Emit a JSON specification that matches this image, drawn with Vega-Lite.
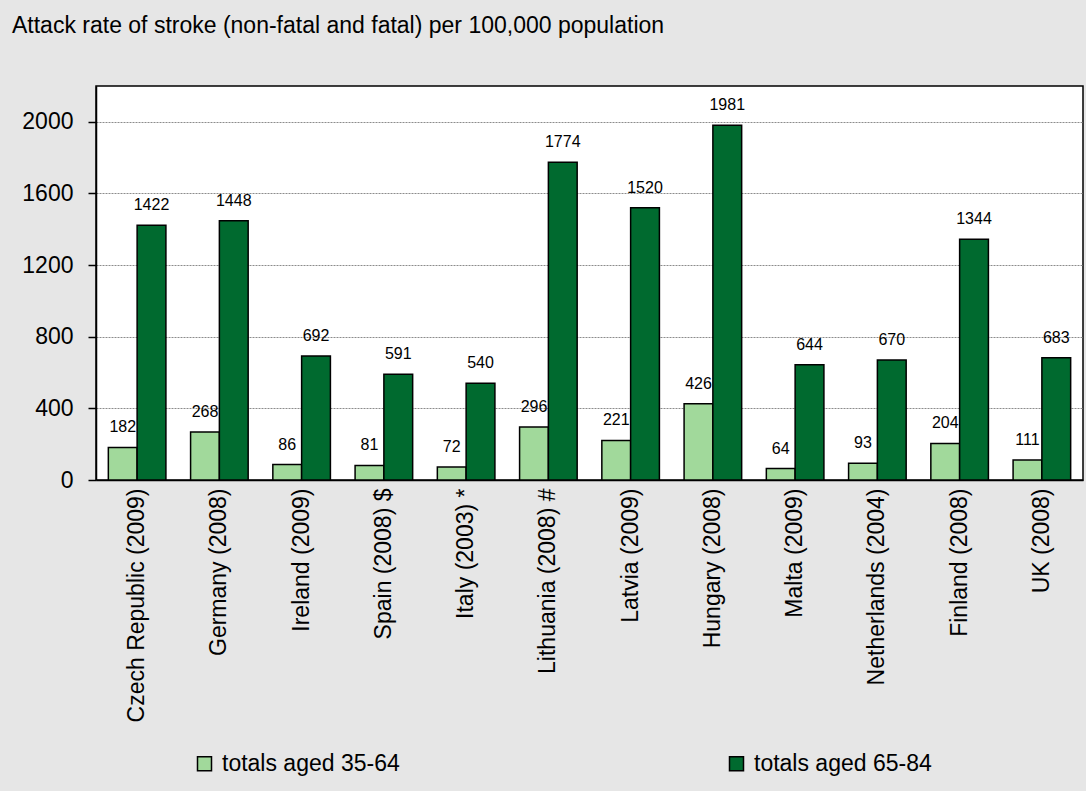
{
  "$schema": "https://vega.github.io/schema/vega-lite/v6.json",
  "width": 987,
  "height": 394,
  "autosize": "none",
  "padding": {"left": 96, "top": 86, "right": 3, "bottom": 311},
  "background": "#e6e6e6",
  "title": {
    "text": "Attack rate of stroke (non-fatal and fatal) per 100,000 population",
    "anchor": "start",
    "frame": "group",
    "dx": -84,
    "offset": 48,
    "font": "Liberation Sans",
    "fontSize": 23,
    "fontWeight": "normal",
    "color": "#000000"
  },
  "config": {
    "font": "Liberation Sans",
    "view": {"fill": "#ffffff", "stroke": "#000000", "strokeWidth": 1.5}
  },
  "data": {
    "values": [
      {"country": "Czech Republic (2009)", "group": "totals aged 35-64", "value": 182},
      {"country": "Czech Republic (2009)", "group": "totals aged 65-84", "value": 1422},
      {"country": "Germany (2008)", "group": "totals aged 35-64", "value": 268},
      {"country": "Germany (2008)", "group": "totals aged 65-84", "value": 1448},
      {"country": "Ireland (2009)", "group": "totals aged 35-64", "value": 86},
      {"country": "Ireland (2009)", "group": "totals aged 65-84", "value": 692},
      {"country": "Spain (2008) $", "group": "totals aged 35-64", "value": 81},
      {"country": "Spain (2008) $", "group": "totals aged 65-84", "value": 591},
      {"country": "Italy (2003) *", "group": "totals aged 35-64", "value": 72},
      {"country": "Italy (2003) *", "group": "totals aged 65-84", "value": 540},
      {"country": "Lithuania (2008) #", "group": "totals aged 35-64", "value": 296},
      {"country": "Lithuania (2008) #", "group": "totals aged 65-84", "value": 1774},
      {"country": "Latvia (2009)", "group": "totals aged 35-64", "value": 221},
      {"country": "Latvia (2009)", "group": "totals aged 65-84", "value": 1520},
      {"country": "Hungary (2008)", "group": "totals aged 35-64", "value": 426},
      {"country": "Hungary (2008)", "group": "totals aged 65-84", "value": 1981},
      {"country": "Malta (2009)", "group": "totals aged 35-64", "value": 64},
      {"country": "Malta (2009)", "group": "totals aged 65-84", "value": 644},
      {"country": "Netherlands (2004)", "group": "totals aged 35-64", "value": 93},
      {"country": "Netherlands (2004)", "group": "totals aged 65-84", "value": 670},
      {"country": "Finland (2008)", "group": "totals aged 35-64", "value": 204},
      {"country": "Finland (2008)", "group": "totals aged 65-84", "value": 1344},
      {"country": "UK (2008)", "group": "totals aged 35-64", "value": 111},
      {"country": "UK (2008)", "group": "totals aged 65-84", "value": 683}
    ]
  },
  "encoding": {
    "x": {
      "field": "country",
      "type": "nominal",
      "sort": null,
      "title": null,
      "scale": {"paddingInner": 0.3, "paddingOuter": 0.15},
      "axis": {
        "labelAngle": -90,
        "labelAlign": "right",
        "labelBaseline": "middle",
        "labelFontSize": 23,
        "labelColor": "#000000",
        "labelPadding": 8,
        "labelLimit": 400,
        "ticks": false,
        "domainColor": "#000000",
        "domainWidth": 1.5
      }
    },
    "xOffset": {"field": "group", "type": "nominal", "scale": {"paddingInner": 0, "paddingOuter": 0}},
    "y": {
      "field": "value",
      "type": "quantitative",
      "title": null,
      "scale": {"domain": [0, 2200], "nice": false},
      "axis": {
        "values": [0, 400, 800, 1200, 1600, 2000],
        "format": "d",
        "labelFontSize": 23,
        "labelColor": "#000000",
        "labelPadding": 15,
        "tickSize": 8,
        "tickColor": "#000000",
        "tickWidth": 1.5,
        "domainColor": "#000000",
        "domainWidth": 1.5,
        "gridColor": "#8c8c8c",
        "gridDash": [2, 1],
        "gridWidth": 1
      }
    }
  },
  "layer": [
    {
      "mark": {"type": "bar", "stroke": "#000000", "strokeWidth": 1.5},
      "encoding": {
        "color": {
          "field": "group",
          "type": "nominal",
          "scale": {"domain": ["totals aged 35-64", "totals aged 65-84"], "range": ["#a1d99b", "#006a2f"]},
          "legend": {
            "title": null,
            "orient": "none",
            "legendX": 97,
            "legendY": 666,
            "direction": "horizontal",
            "columns": 2,
            "columnPadding": 325,
            "symbolType": "square",
            "symbolSize": 196,
            "symbolStrokeColor": "#000000",
            "symbolStrokeWidth": 1.5,
            "symbolOffset": 0,
            "labelFontSize": 23,
            "labelColor": "#000000",
            "labelOffset": 6,
            "labelLimit": 400
          }
        }
      }
    },
    {
      "mark": {"type": "text", "baseline": "alphabetic", "dy": -15, "fontSize": 16, "color": "#000000"},
      "encoding": {"text": {"field": "value", "type": "quantitative"}}
    }
  ]
}
